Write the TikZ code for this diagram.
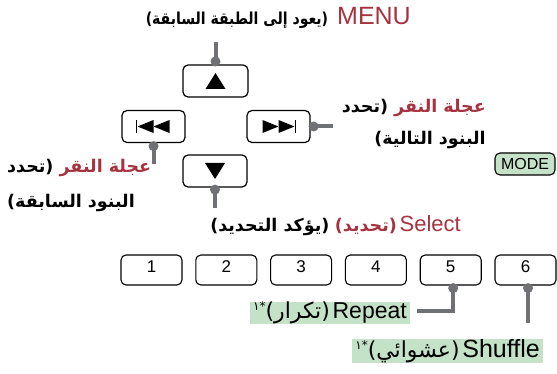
\documentclass[tikz,border=0pt]{standalone}
\usepackage{fontspec}
\setmainfont{Liberation Sans}
\newfontfamily\arfont[Script=Arabic]{DejaVu Sans}
\newfontfamily\arnarrow[Script=Arabic,FakeStretch=0.85]{DejaVu Sans}
\TeXXeTstate=1
\definecolor{lblred}{HTML}{A6333F}
\definecolor{conncol}{HTML}{707174}
\definecolor{lgreen}{HTML}{C4E2C7}
\newcommand{\arb}{\arfont\bfseries\fontsize{17.5}{17.5}\selectfont}
\newcommand{\arr}{\arfont\fontsize{22}{22}\selectfont}
\newcommand{\latbig}{\fontsize{23}{23}\selectfont}
\begin{document}
\begin{tikzpicture}[x=1pt,y=-1pt,
  btn/.style={draw, line width=1.2pt, rounded corners=5pt, minimum width=63pt, minimum height=32pt, inner sep=0pt},
  numbtn/.style={draw, line width=1.1pt, rounded corners=5pt, minimum width=61pt, minimum height=30pt, inner sep=0pt},
  digit/.style={font=\fontsize{17}{17}\selectfont, inner sep=0pt},
  connline/.style={draw=conncol, line width=4pt},
  cdot/.style={circle, fill=conncol, minimum size=10pt, inner sep=0pt},
  lab/.style={fill=lgreen, inner xsep=3pt, inner ysep=0pt, minimum height=21pt},
  txt/.style={inner sep=0pt}
]
\useasboundingbox (0,0) rectangle (557,374);

% title MENU
\node[txt, anchor=east] (menu) at (411,18)
  {{\arnarrow\bfseries\fontsize{16.5}{16.5}\selectfont\beginR(يعود إلى الطبقة السابقة)\endR}\hspace{9pt}{\fontsize{25}{25}\selectfont\color{lblred}MENU}};

% cursor buttons
\node[btn, minimum width=65pt] (up) at (215.5,81) {};
\node[btn] (prev) at (153.5,126.5) {};
\node[btn] (next) at (278.5,126.5) {};
\node[btn, minimum width=64pt] (down) at (215,171) {};

% symbols
\fill ([shift={(-10pt,-8pt)}]up.center) -- ([shift={(10pt,-8pt)}]up.center) -- ([shift={(0pt,8pt)}]up.center) -- cycle;
\fill ([shift={(-10pt,8pt)}]down.center) -- ([shift={(10pt,8pt)}]down.center) -- ([shift={(0pt,-8pt)}]down.center) -- cycle;
\draw[line width=1.5pt] ([shift={(-17pt,-6.5pt)}]prev.center) -- ([shift={(-17pt,6.5pt)}]prev.center);
\fill ([shift={(-16pt,0pt)}]prev.center) -- ([shift={(0pt,6.5pt)}]prev.center) -- ([shift={(0pt,-6.5pt)}]prev.center) -- cycle;
\fill ([shift={(0pt,0pt)}]prev.center) -- ([shift={(16pt,6.5pt)}]prev.center) -- ([shift={(16pt,-6.5pt)}]prev.center) -- cycle;
\draw[line width=1.5pt] ([shift={(17pt,-6.5pt)}]next.center) -- ([shift={(17pt,6.5pt)}]next.center);
\fill ([shift={(16pt,0pt)}]next.center) -- ([shift={(0pt,6.5pt)}]next.center) -- ([shift={(0pt,-6.5pt)}]next.center) -- cycle;
\fill ([shift={(0pt,0pt)}]next.center) -- ([shift={(-16pt,6.5pt)}]next.center) -- ([shift={(-16pt,-6.5pt)}]next.center) -- cycle;

% connectors for cursor buttons
\coordinate (menuend) at (215.5,42);
\node[cdot] (updot) at ([yshift=3pt]up.north) {};
\draw[connline] (menuend) -- (updot.center);
\node[cdot] (prevdot) at ([yshift=-3pt]prev.south) {};
\coordinate (prevend) at (153.5,164);
\draw[connline] (prevdot.center) -- (prevend);
\node[cdot] (nextdot) at ([xshift=3pt]next.east) {};
\coordinate (nextend) at (333,126.5);
\draw[connline] (nextdot.center) -- (nextend);
\node[cdot] (downdot) at ([yshift=-2pt]down.south) {};
\coordinate (downend) at (215,208);
\draw[connline] (downdot.center) -- (downend);

% right label
\node[txt, anchor=east, font=\arb] (nextlab1) at (486,108)
  {\beginR(تحدد\endR\ {\color{lblred}\beginR عجلة النقر\endR}};
\node[txt, anchor=east, font=\arb] (nextlab2) at (486,140)
  {\beginR البنود التالية)\endR};

% left label
\node[txt, anchor=west, font=\arb] (prevlab1) at (7,168)
  {\beginR(تحدد\endR\ {\color{lblred}\beginR عجلة النقر\endR}};
\node[txt, anchor=west, font=\arb] (prevlab2) at (7,203)
  {\beginR البنود السابقة)\endR};

% select line
\node[txt, anchor=east] (select) at (461,226)
  {{\arb\beginR(يؤكد التحديد)\endR}\ \ {\color{lblred}{\arb\beginR(تحديد)\endR}\ {\fontsize{22}{22}\selectfont Select}}};

% MODE button
\node[draw, fill=lgreen, line width=1.1pt, rounded corners=5pt, minimum width=60pt, minimum height=22pt, inner sep=0pt, font=\fontsize{16}{16}\selectfont] (mode) at (525,164) {MODE};

% number buttons
\foreach \i/\xx in {1/151.5,2/226.3,3/301.1,4/375.9,5/450.7,6/525.5}{
  \node[numbtn] (n\i) at (\xx,270) {};
  \node[digit] (d\i) at (\xx,267) {\i};
}

% repeat / shuffle
\node[cdot] (rdot) at ([shift={(2.5pt,-2.5pt)}]n5.south) {};
\coordinate (repend) at (417,311);
\draw[connline] (rdot.center) |- (repend);
\node[cdot] (sdot) at ([shift={(2.5pt,-2.5pt)}]n6.south) {};
\coordinate (shufend) at (528,323);
\draw[connline] (sdot.center) -- (shufend);

\node[lab, anchor=east] (replab) at (410,313)
  {\raisebox{8pt}{\arfont\fontsize{12}{12}\selectfont *١}{\arr\beginR(تكرار)\endR}\ {\latbig Repeat}};
\node[lab, anchor=east] (shuflab) at (543,351)
  {\raisebox{8pt}{\arfont\fontsize{12}{12}\selectfont *١}{\arr\beginR(عشوائي)\endR}\ {\fontsize{25}{25}\selectfont Shuffle}};
\end{tikzpicture}
\end{document}
